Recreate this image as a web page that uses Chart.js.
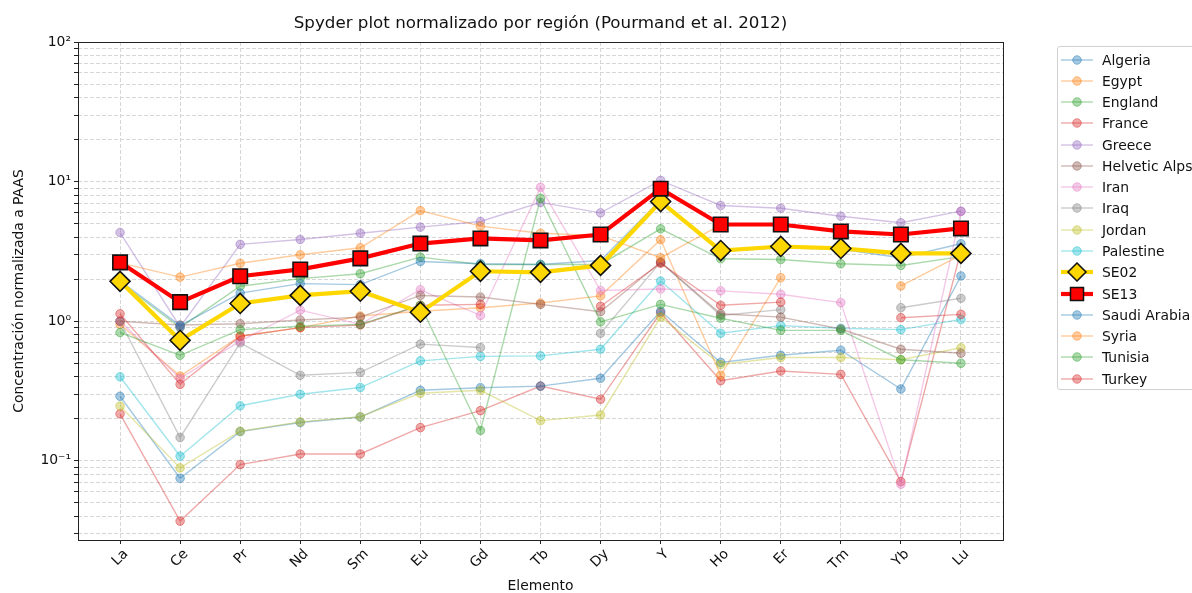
<!DOCTYPE html>
<html>
<head>
<meta charset="utf-8">
<script src="https://cdn.jsdelivr.net/npm/chart.js@4.4.1/dist/chart.umd.min.js"></script>
<style>
  html, body { margin: 0; padding: 0; background: #fff; }
  #wrap { position: relative; width: 1192px; height: 593px; overflow: hidden; background: #fff; }
  #chart { position: absolute; left: 0; top: 0; }
  #legend {
    position: absolute; left: 1057px; top: 46px; width: 150px; height: 344px;
    border: 1px solid #d0d0d0; border-radius: 3px; background: rgba(255,255,255,0.8);
    font-family: 'DejaVu Sans', sans-serif; font-size: 13.9px; color: #111; box-sizing: border-box;
    padding-top: 2px;
  }
  .row { height: 21.27px; display: flex; align-items: center; white-space: nowrap; }
  .row svg { flex: none; margin-right: 4px; }
</style>
</head>
<body>
<div id="wrap">
  <canvas id="chart" width="1192" height="593"></canvas>
  <div id="legend"></div>
</div>
<script>
// ─── Data ─────────────────────────────────────────────────────────────────────
const ELEMENTS = ['La','Ce','Pr','Nd','Sm','Eu','Gd','Tb','Dy','Y','Ho','Er','Tm','Yb','Lu'];

const algeria      = [1.95, 0.93, 1.59, 1.86, 1.83, 2.68, 2.58, 2.55, 2.72, 7.4, 3.15, 3.35, 3.28, 2.85, 3.59];
const egypt        = [2.62, 2.07, 2.60, 2.99, 3.36, 6.20, 4.80, 4.27, 4.10, 2.85, 4.90, null, null, null, null];
const england      = [0.83, 0.57, 0.87, 0.92, 0.95, 1.30, 0.165, 7.6, 0.99, 1.32, 1.05, 0.86, 0.86, 0.53, 0.50];
const france       = [1.13, 0.353, 0.78, 0.90, 0.94, 1.30, 1.32, null, 1.28, 2.60, 1.30, 1.37, null, 1.06, 1.12];
const greece       = [4.32, 0.91, 3.55, 3.85, 4.27, 4.72, 5.18, 7.10, 5.97, 10.2, 6.75, 6.45, 5.65, 5.07, 6.14];
const helveticAlps = [1.00, 0.94, 0.96, 1.02, 1.07, 1.53, 1.49, 1.32, 1.17, 2.65, 1.13, 1.07, 0.88, 0.63, 0.59];
const iran         = [1.00, 0.39, 0.72, 1.20, 0.95, 1.68, 1.10, 9.10, 1.66, 1.70, 1.65, 1.56, 1.36, 0.068, 6.10];
const iraq         = [1.00, 0.147, 0.70, 0.41, 0.43, 0.685, 0.648, null, 0.82, 2.65, 1.10, 1.21, null, 1.25, 1.46];
const jordan       = [0.247, 0.089, 0.163, 0.19, 0.207, 0.305, 0.32, 0.194, 0.213, 1.07, 0.49, 0.55, 0.55, 0.53, 0.645];
const palestine    = [0.40, 0.108, 0.248, 0.30, 0.335, 0.52, 0.56, 0.565, 0.63, 1.94, 0.82, 0.93, 0.89, 0.87, 1.03];
const se02         = [1.93, 0.73, 1.34, 1.53, 1.64, 1.16, 2.28, 2.24, 2.51, 7.20, 3.21, 3.43, 3.32, 3.06, 3.06];
const se13         = [2.64, 1.37, 2.10, 2.35, 2.82, 3.60, 3.92, 3.79, 4.18, 8.90, 4.93, 4.93, 4.40, 4.18, 4.62];
const saudiArabia  = [0.29, 0.075, 0.162, 0.188, 0.206, 0.32, 0.334, 0.343, 0.39, 1.18, 0.507, 0.57, 0.62, 0.327, 2.11];
const syria        = [0.95, 0.405, 0.78, 0.90, 1.09, 1.18, 1.25, 1.35, 1.52, 3.83, 0.41, 2.05, null, 1.79, 2.98];
const tunisia      = [1.90, 0.90, 1.78, 2.02, 2.19, 2.88, 2.55, 2.55, 2.55, 4.59, 2.80, 2.77, 2.58, 2.51, 2.90];
const turkey       = [0.217, 0.037, 0.094, 0.112, 0.112, 0.173, 0.229, 0.343, 0.276, 1.15, 0.375, 0.44, 0.416, 0.071, 3.20];

const SERIES_NAMES  = ['Algeria','Egypt','England','France','Greece','Helvetic Alps','Iran','Iraq',
                       'Jordan','Palestine','SE02','SE13','Saudi Arabia','Syria','Tunisia','Turkey'];
const SERIES_VALUES = [algeria, egypt, england, france, greece, helveticAlps, iran, iraq,
                       jordan, palestine, se02, se13, saudiArabia, syria, tunisia, turkey];

// ─── Style ────────────────────────────────────────────────────────────────────
const TAB10 = ['#1f77b4','#ff7f0e','#2ca02c','#d62728','#9467bd','#8c564b','#e377c2','#7f7f7f','#bcbd22','#17becf'];
const GRID_COLOR = '#d6d6d6';
const FONT = "'DejaVu Sans', sans-serif";

function rgba(hex, a) {
  const n = parseInt(hex.slice(1), 16);
  return `rgba(${n >> 16},${(n >> 8) & 255},${n & 255},${a})`;
}

// colour cycle skips the two highlighted samples (they set their own colour)
let cycle = 0;
const seriesStyle = SERIES_NAMES.map(name => {
  if (name === 'SE02') return { color: '#ffd700', kind: 'diamond' };
  if (name === 'SE13') return { color: '#ff0000', kind: 'square' };
  return { color: TAB10[(cycle++) % 10], kind: 'circle' };
});

// ─── Datasets ─────────────────────────────────────────────────────────────────
const datasets = SERIES_NAMES.map((name, i) => {
  const st = seriesStyle[i];
  const data = SERIES_VALUES[i].map((v, k) => ({ x: k, y: v }));
  if (st.kind === 'circle') {
    return {
      label: name, data,
      borderColor: rgba(st.color, 0.4), backgroundColor: rgba(st.color, 0.4),
      borderWidth: 1.4, pointRadius: 4.3, pointBorderWidth: 1,
      pointBorderColor: rgba(st.color, 0.45), pointBackgroundColor: rgba(st.color, 0.4),
      tension: 0, spanGaps: false, order: 0
    };
  }
  return {
    label: name, data,
    borderColor: st.color, backgroundColor: st.color,
    borderWidth: 4.2,
    pointStyle: st.kind === 'diamond' ? 'rectRot' : 'rect',
    pointRadius: st.kind === 'diamond' ? 10 : 10.2,
    pointBorderWidth: 1.6, pointBorderColor: '#111', pointBackgroundColor: st.color,
    tension: 0, spanGaps: false,
    order: st.kind === 'diamond' ? -1 : -2
  };
});

// ─── Plugins: frame + title centred on the axes ──────────────────────────────
const framePlugin = {
  id: 'frame',
  afterDraw(chart) {
    const { ctx, chartArea: a } = chart;
    ctx.save();
    ctx.strokeStyle = '#222';
    ctx.lineWidth = 1;
    ctx.strokeRect(Math.round(a.left) + 0.5, Math.round(a.top) + 0.5,
                   Math.round(a.right - a.left), Math.round(a.bottom - a.top));
    ctx.fillStyle = '#111';
    ctx.font = `16.7px ${FONT}`;
    ctx.textAlign = 'center';
    ctx.textBaseline = 'middle';
    ctx.fillText('Spyder plot normalizado por región (Pourmand et al. 2012)', (a.left + a.right) / 2, 24);
    ctx.restore();
  }
};

const SUP = { '-': '\u207B', '0': '\u2070', '1': '\u00B9', '2': '\u00B2', '3': '\u00B3' };

// ─── Chart ────────────────────────────────────────────────────────────────────
Chart.defaults.font.family = FONT;
Chart.defaults.color = '#111';

new Chart(document.getElementById('chart').getContext('2d'), {
  type: 'line',
  data: { datasets },
  options: {
    responsive: false, animation: false, devicePixelRatio: 1,
    layout: { padding: { top: 42, right: 189, left: 0, bottom: 0 } },
    plugins: { legend: { display: false }, tooltip: { enabled: false } },
    scales: {
      x: {
        type: 'linear', min: -0.7, max: 14.7, bounds: 'data',
        afterBuildTicks(scale) { scale.ticks = ELEMENTS.map((_, i) => ({ value: i })); },
        afterFit(scale) { scale.height = 53; },
        ticks: {
          autoSkip: false, maxRotation: 45, minRotation: 45, padding: 2, labelOffset: 6,
          font: { size: 13.9 }, color: '#111',
          callback: (v) => ELEMENTS[v] ?? ''
        },
        grid: { color: GRID_COLOR, lineWidth: 1, tickLength: 4, tickColor: '#222', tickWidth: 1, drawTicks: true },
        border: { display: false, dash: [4, 2] },
        title: { display: true, text: 'Elemento', font: { size: 13.9, lineHeight: 1 }, padding: { top: 0, bottom: 0 }, color: '#111' }
      },
      y: {
        type: 'logarithmic', min: 0.0271, max: 100, bounds: 'data',
        afterBuildTicks(scale) {
          const t = [];
          for (let e = -2; e <= 2; e++) {
            for (let m = 1; m <= 9; m++) {
              const v = m * Math.pow(10, e);
              if (v >= scale.min * 0.999 && v <= scale.max * 1.001) t.push({ value: v });
            }
          }
          scale.ticks = t;
        },
        afterFit(scale) { scale.width = 78; },
        ticks: {
          autoSkip: false, padding: 3, font: { size: 13.9 }, color: '#111',
          callback: (v) => {
            const e = Math.log10(v);
            if (Math.abs(e - Math.round(e)) > 1e-6) return '';
            return '10' + String(Math.round(e)).split('').map(c => SUP[c]).join('');
          }
        },
        grid: { color: GRID_COLOR, lineWidth: 1, tickLength: 4, tickColor: '#222', tickWidth: 1 },
        border: { display: false, dash: [4, 2] },
        title: { display: true, text: 'Concentración normalizada a PAAS', font: { size: 13.9, lineHeight: 1.2 }, padding: { top: 11 }, color: '#111' }
      }
    }
  },
  plugins: [framePlugin]
});

// ─── HTML legend ──────────────────────────────────────────────────────────────
const legendEl = document.getElementById('legend');
SERIES_NAMES.forEach((name, i) => {
  const st = seriesStyle[i];
  let mark;
  if (st.kind === 'circle') {
    const c = rgba(st.color, 0.4);
    mark = `<line x1="3" y1="10" x2="35" y2="10" stroke="${c}" stroke-width="1.4"/>` +
           `<circle cx="19" cy="10" r="4.3" fill="${c}" stroke="${rgba(st.color, 0.45)}" stroke-width="1"/>`;
  } else if (st.kind === 'diamond') {
    mark = `<line x1="3" y1="10" x2="35" y2="10" stroke="${st.color}" stroke-width="4.2"/>` +
           `<polygon points="19,1 28,10 19,19 10,10" fill="${st.color}" stroke="#111" stroke-width="1.5"/>`;
  } else {
    mark = `<line x1="3" y1="10" x2="35" y2="10" stroke="${st.color}" stroke-width="4.2"/>` +
           `<rect x="12.5" y="3.5" width="13" height="13" fill="${st.color}" stroke="#111" stroke-width="1.5"/>`;
  }
  const row = document.createElement('div');
  row.className = 'row';
  row.innerHTML = `<svg width="40" height="20" viewBox="0 0 40 20">${mark}</svg><span>${name}</span>`;
  legendEl.appendChild(row);
});
</script>
</body>
</html>
